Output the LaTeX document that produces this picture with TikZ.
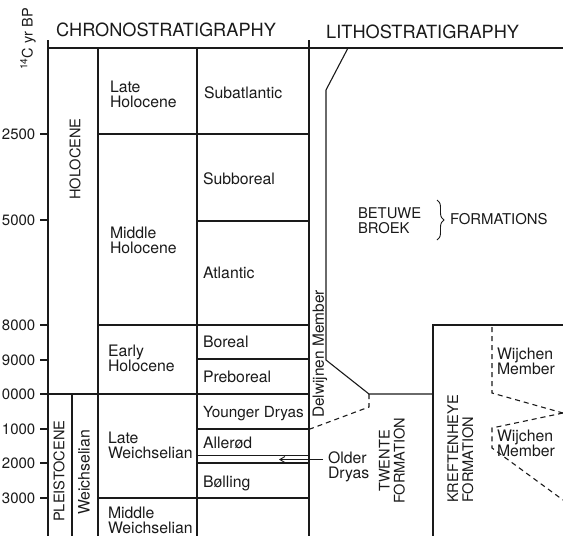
\documentclass[tikz,border=0pt]{standalone}
\usepackage{fontspec}
\setmainfont{TeX Gyre Heros}
\usetikzlibrary{arrows.meta,decorations.pathreplacing}
\definecolor{ink}{HTML}{1A1A1A}
\begin{document}
\begin{tikzpicture}[x=1pt,y=-1pt,
  ln/.style={line width=1.1pt,draw=ink},
  dsh/.style={line width=1.1pt,draw=ink,dash pattern=on 5pt off 4pt},
  lbl/.style={inner sep=0pt,outer sep=0pt,anchor=north west,align=left,text=ink,font=\fontsize{15.8}{15}\selectfont},
  sml/.style={lbl,font=\fontsize{15}{15}\selectfont},
  hd/.style={inner sep=0pt,anchor=north west,text=ink,font=\fontsize{18.2}{20}\selectfont},
  yr/.style={inner sep=0pt,anchor=east,text=ink,font=\fontsize{15}{15}\selectfont},
  vlbl/.style={inner sep=0pt,rotate=90,text=ink,font=\fontsize{14.6}{15}\selectfont},
]
\useasboundingbox (0,0) rectangle (563,536);

% ---------- frame ----------
\draw[ln] (48,40) -- (48,540);
\draw[ln] (309,40) -- (309,540);
\draw[ln] (48,48) -- (563,48);
\draw[ln] (98,48) -- (98,540);
\draw[ln] (197,48) -- (197,540);
\draw[ln] (72,394) -- (72,540);

% ticks and horizontal boundaries
\draw[ln] (40,134) -- (48,134);  \draw[ln] (98,134) -- (309,134);
\draw[ln] (40,220) -- (48,220);  \draw[ln] (197,221) -- (309,221);
\draw[ln] (40,325) -- (48,325);  \draw[ln] (98,325) -- (309,325);
\draw[ln] (40,360) -- (48,360);  \draw[ln] (197,359) -- (309,359);
\draw[ln] (40,394) -- (309,394);
\draw[ln] (40,429) -- (48,429);  \draw[ln] (197,429) -- (309,429);
\draw[ln] (40,463) -- (48,463);
\draw[ln] (197,455.5) -- (309,455.5);
\draw[ln] (197,463) -- (309,463);
\draw[ln] (40,498) -- (48,498);  \draw[ln] (98,498) -- (309,498);

% ---------- lithostratigraphy ----------
\draw[ln] (348,48) -- (326,90) -- (326,360) -- (369,394) -- (433,394);
\draw[dsh] (369,394) -- (369,407) -- (310,429);
\draw[ln] (433,540) -- (433,325) -- (563,325);
\draw[dsh] (492,327) -- (492,393) -- (563,413);
\draw[dsh] (563,413) -- (492,428) -- (492,448) -- (563,500);

% ---------- headings ----------
\node[hd] (chrono) at (56,23) {CHRONOSTRATIGRAPHY};
\node[hd] (litho) at (326,25) {LITHOSTRATIGRAPHY};
\node[inner sep=0pt,rotate=90,anchor=base west,text=ink,font=\fontsize{14.5}{14}\selectfont] (axis) at (32.5,70) {\textsuperscript{14}C yr BP};

% ---------- year labels ----------
\node[yr] (y2500) at (35.5,134) {2500};
\node[yr] (y5000) at (35.5,220) {5000};
\node[yr] (y8000) at (35.5,325) {8000};
\node[yr] (y9000) at (35.5,360) {9000};
\node[yr] (y10000) at (35.5,394) {10000};
\node[yr] (y11000) at (35.5,429) {11000};
\node[yr] (y12000) at (35.5,463) {12000};
\node[yr] (y13000) at (35.5,498) {13000};

% ---------- rotated labels ----------
\node[vlbl,anchor=west] (holo) at (75,200) {HOLOCENE};
\node[vlbl,anchor=west] (pleis) at (59,522) {PLEISTOCENE};
\node[vlbl,anchor=west,font=\fontsize{15.8}{14}\selectfont] (weich) at (84,515) {Weichselian};
\node[vlbl,anchor=west,font=\fontsize{15.4}{14}\selectfont] (delw) at (320,418) {Delwijnen Member};
\node[vlbl,anchor=center,align=center] (twente) at (392,461) {TWENTE\\FORMATION};
\node[vlbl,anchor=west,align=left] (kreft) at (460.5,503) {KREFTENHEYE\\FORMATION};

% ---------- chronostratigraphic labels ----------
\node[lbl] (lateh) at (110,81) {Late\\Holocene};
\node[lbl] (midh) at (110,227) {Middle\\Holocene};
\node[lbl] (earlyh) at (108,345) {Early\\Holocene};
\node[lbl] (latew) at (108,432) {Late\\Weichselian};
\node[lbl] (midw) at (108,507) {Middle\\Weichselian};
\node[lbl] (subat) at (204,87) {Subatlantic};
\node[lbl] (subbo) at (203,173) {Subboreal};
\node[lbl] (atl) at (203,267) {Atlantic};
\node[lbl] (bor) at (203,336) {Boreal};
\node[lbl] (prebor) at (203,371) {Preboreal};
\node[lbl,font=\fontsize{15.3}{14}\selectfont] (yd) at (203,406) {Younger Dryas};
\node[lbl] (all) at (203,437) {Allerød};
\node[lbl] (bol) at (203,476) {Bølling};
\node[lbl] (od) at (328,452) {Older\\Dryas};
\coordinate (odstart) at (323,459.5);
\coordinate (odtip) at (279,459.5);
\draw[line width=0.9pt,draw=ink,-{Straight Barb[length=5pt,width=6pt]}] (odstart) -- (odtip);

% ---------- lithostratigraphic labels ----------
\node[sml,font=\fontsize{14.8}{15}\selectfont] (betuwe) at (358,208) {BETUWE\\BROEK};
\coordinate (brtop) at (437,200);
\coordinate (brbot) at (437,240);
\draw[line width=0.9pt,draw=ink,decorate,decoration={brace,amplitude=7pt}] (brtop) -- (brbot);
\node[sml,font=\fontsize{14.9}{15}\selectfont] (forms) at (450,213) {FORMATIONS};
\node[lbl] (wij1) at (497,348) {Wijchen\\Member};
\node[lbl] (wij2) at (497,430) {Wijchen\\Member};
\end{tikzpicture}
\end{document}
